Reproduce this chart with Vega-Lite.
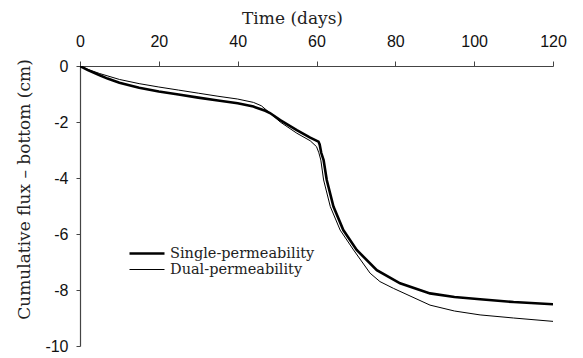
{
  "$schema": "https://vega.github.io/schema/vega-lite/v6.json",
  "width": 473,
  "height": 280,
  "autosize": "none",
  "padding": {"left": 80, "top": 66, "right": 30, "bottom": 12},
  "background": "white",
  "config": {
    "view": {"stroke": null},
    "axis": {"grid": false, "domainColor": "#444", "tickColor": "#444", "domainWidth": 1.2, "tickWidth": 1},
    "legend": {"labelFont": "DejaVu Serif", "labelFontSize": 14.5}
  },
  "datasets": {
    "flux": [
      {"t": 0, "v": 0, "s": "Single-permeability"},
      {"t": 2, "v": -0.15, "s": "Single-permeability"},
      {"t": 5, "v": -0.33, "s": "Single-permeability"},
      {"t": 7, "v": -0.45, "s": "Single-permeability"},
      {"t": 10, "v": -0.6, "s": "Single-permeability"},
      {"t": 15, "v": -0.78, "s": "Single-permeability"},
      {"t": 20, "v": -0.91, "s": "Single-permeability"},
      {"t": 25, "v": -1.02, "s": "Single-permeability"},
      {"t": 30, "v": -1.13, "s": "Single-permeability"},
      {"t": 35, "v": -1.23, "s": "Single-permeability"},
      {"t": 40, "v": -1.33, "s": "Single-permeability"},
      {"t": 44, "v": -1.45, "s": "Single-permeability"},
      {"t": 47, "v": -1.6, "s": "Single-permeability"},
      {"t": 48.2, "v": -1.68, "s": "Single-permeability"},
      {"t": 50.8, "v": -1.93, "s": "Single-permeability"},
      {"t": 55, "v": -2.29, "s": "Single-permeability"},
      {"t": 58.4, "v": -2.56, "s": "Single-permeability"},
      {"t": 60.5, "v": -2.7, "s": "Single-permeability"},
      {"t": 60.8, "v": -2.8, "s": "Single-permeability"},
      {"t": 61.2, "v": -3.1, "s": "Single-permeability"},
      {"t": 61.8, "v": -3.36, "s": "Single-permeability"},
      {"t": 62.6, "v": -4.07, "s": "Single-permeability"},
      {"t": 64.3, "v": -5.02, "s": "Single-permeability"},
      {"t": 66.8, "v": -5.86, "s": "Single-permeability"},
      {"t": 70.2, "v": -6.57, "s": "Single-permeability"},
      {"t": 75.3, "v": -7.29, "s": "Single-permeability"},
      {"t": 81.2, "v": -7.76, "s": "Single-permeability"},
      {"t": 88.8, "v": -8.12, "s": "Single-permeability"},
      {"t": 95, "v": -8.25, "s": "Single-permeability"},
      {"t": 101.5, "v": -8.33, "s": "Single-permeability"},
      {"t": 110, "v": -8.43, "s": "Single-permeability"},
      {"t": 120, "v": -8.51, "s": "Single-permeability"},
      {"t": 0, "v": 0, "s": "Dual-permeability"},
      {"t": 2, "v": -0.12, "s": "Dual-permeability"},
      {"t": 5, "v": -0.27, "s": "Dual-permeability"},
      {"t": 10, "v": -0.48, "s": "Dual-permeability"},
      {"t": 15, "v": -0.63, "s": "Dual-permeability"},
      {"t": 20, "v": -0.75, "s": "Dual-permeability"},
      {"t": 25, "v": -0.86, "s": "Dual-permeability"},
      {"t": 30, "v": -0.97, "s": "Dual-permeability"},
      {"t": 35, "v": -1.08, "s": "Dual-permeability"},
      {"t": 40, "v": -1.18, "s": "Dual-permeability"},
      {"t": 44, "v": -1.3, "s": "Dual-permeability"},
      {"t": 46, "v": -1.42, "s": "Dual-permeability"},
      {"t": 48.2, "v": -1.68, "s": "Dual-permeability"},
      {"t": 50.8, "v": -2.0, "s": "Dual-permeability"},
      {"t": 55, "v": -2.4, "s": "Dual-permeability"},
      {"t": 58.4, "v": -2.67, "s": "Dual-permeability"},
      {"t": 60, "v": -2.88, "s": "Dual-permeability"},
      {"t": 60.6, "v": -3.1, "s": "Dual-permeability"},
      {"t": 61.1, "v": -3.36, "s": "Dual-permeability"},
      {"t": 61.8, "v": -4.07, "s": "Dual-permeability"},
      {"t": 63.5, "v": -5.02, "s": "Dual-permeability"},
      {"t": 66, "v": -5.86, "s": "Dual-permeability"},
      {"t": 69.4, "v": -6.57, "s": "Dual-permeability"},
      {"t": 73.6, "v": -7.4, "s": "Dual-permeability"},
      {"t": 76.1, "v": -7.7, "s": "Dual-permeability"},
      {"t": 79.5, "v": -7.94, "s": "Dual-permeability"},
      {"t": 88.8, "v": -8.54, "s": "Dual-permeability"},
      {"t": 95, "v": -8.75, "s": "Dual-permeability"},
      {"t": 101.5, "v": -8.89, "s": "Dual-permeability"},
      {"t": 110, "v": -9.0, "s": "Dual-permeability"},
      {"t": 120, "v": -9.12, "s": "Dual-permeability"}
    ]
  },
  "data": {"name": "flux"},
  "mark": {"type": "line", "color": "black", "clip": true},
  "encoding": {
    "x": {
      "field": "t", "type": "quantitative",
      "scale": {"domain": [0, 120], "nice": false},
      "axis": {
        "orient": "top", "values": [0, 20, 40, 60, 80, 100, 120], "title": "Time (days)",
        "titleFont": "DejaVu Serif", "titleFontSize": 17, "titleFontWeight": "normal", "titleColor": "#222",
        "titleX": 212, "titleY": -43, "titleBaseline": "alphabetic", "titleAlign": "center",
        "labelFont": "Liberation Sans", "labelFontSize": 16, "labelColor": "#111",
        "tickSize": 5, "labelPadding": 12, "labelFlush": false
      }
    },
    "y": {
      "field": "v", "type": "quantitative",
      "scale": {"domain": [-10, 0], "nice": false},
      "axis": {
        "values": [0, -2, -4, -6, -8, -10], "title": "Cumulative flux – bottom (cm)",
        "labelExpr": "replace(datum.label, '−', '-')",
        "titleFont": "DejaVu Serif", "titleFontSize": 17, "titleFontWeight": "normal", "titleColor": "#222",
        "titleX": -51, "titleY": 123, "titleBaseline": "alphabetic", "titleAlign": "center", "titleAngle": -90,
        "labelFont": "Liberation Sans", "labelFontSize": 16, "labelColor": "#111",
        "tickSize": 4, "labelPadding": 8
      }
    },
    "detail": {"field": "s"},
    "strokeWidth": {
      "field": "s", "type": "nominal",
      "scale": {"domain": ["Single-permeability", "Dual-permeability"], "range": [2.6, 1]},
      "legend": {
        "title": null, "orient": "none", "legendX": 48, "legendY": 180,
        "symbolType": "stroke", "symbolSize": 1225, "symbolStrokeColor": "black",
        "clipHeight": 15, "labelOffset": 4, "rowPadding": 0, "labelColor": "#222"
      }
    }
  }
}
